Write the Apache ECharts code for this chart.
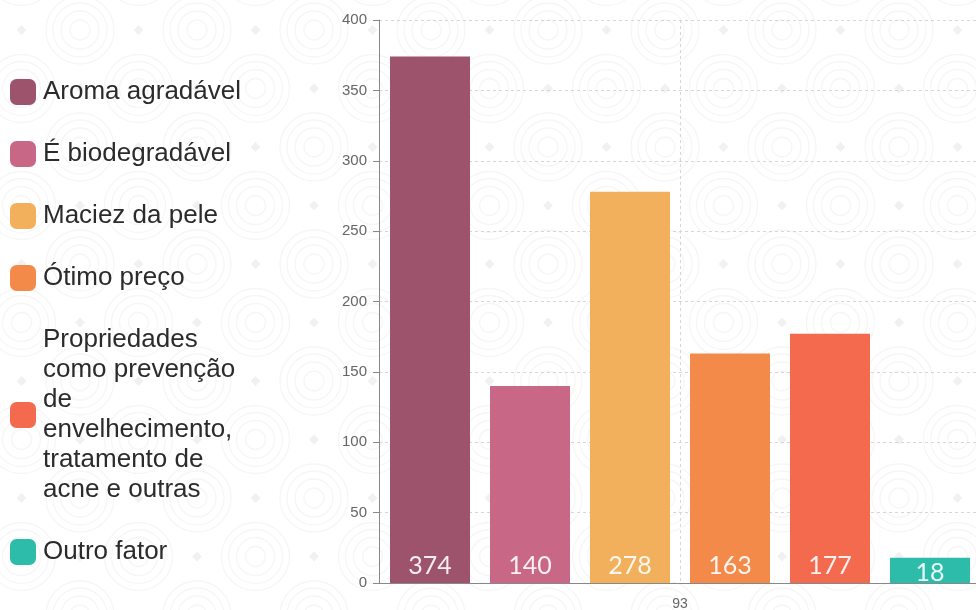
<!DOCTYPE html>
<html>
<head>
<meta charset="utf-8">
<script src="https://cdn.jsdelivr.net/npm/echarts@6/dist/echarts.min.js"></script>
<style>
html,body{margin:0;padding:0;background:#fff;}
#chart{width:976px;height:610px;}
</style>
</head>
<body>
<div id="chart"></div>
<script>
// ---- data ----
var categories = ['93'];
var seriesNames = [
  'Aroma agradável',
  'É biodegradável',
  'Maciez da pele',
  'Ótimo preço',
  'Propriedades\ncomo prevenção\nde\nenvelhecimento,\ntratamento de\nacne e outras',
  'Outro fator'
];
var seriesValues = [374, 140, 278, 163, 177, 18];
var seriesColors = ['#9d536b', '#c96886', '#f2b05c', '#f38a4a', '#f36a4f', '#2ebcaa'];
var yTicks = {min: 0, max: 400, interval: 50};

// ---- background pattern tile ----
function makeTile() {
  var c = document.createElement('canvas');
  var W = 117, H = 117;
  c.width = W; c.height = H;
  var ctx = c.getContext('2d');
  ctx.fillStyle = '#ffffff';
  ctx.fillRect(0, 0, W, H);
  var circles = [[80, 30], [21.5, 88.5]];
  var diamonds = [[21.5, 30], [80, 88.5]];
  var radii = [10, 19, 27, 34];
  ctx.strokeStyle = '#f6f6f6';
  ctx.lineWidth = 1.3;
  circles.forEach(function (p) {
    for (var dx = -W; dx <= W; dx += W) {
      for (var dy = -H; dy <= H; dy += H) {
        radii.forEach(function (r) {
          ctx.beginPath();
          ctx.arc(p[0] + dx, p[1] + dy, r, 0, Math.PI * 2);
          ctx.stroke();
        });
      }
    }
  });
  ctx.fillStyle = '#f1f1f1';
  diamonds.forEach(function (p) {
    ctx.beginPath();
    ctx.moveTo(p[0], p[1] - 5);
    ctx.lineTo(p[0] + 5, p[1]);
    ctx.lineTo(p[0], p[1] + 5);
    ctx.lineTo(p[0] - 5, p[1]);
    ctx.closePath();
    ctx.fill();
  });
  return c;
}

var chart = echarts.init(document.getElementById('chart'), null, {renderer: 'canvas'});

var series = seriesNames.map(function (name, i) {
  var shortBar = seriesValues[i] < 25;
  return {
    name: name,
    type: 'bar',
    data: [seriesValues[i]],
    barWidth: 80,
    barGap: '25%',
    itemStyle: {color: seriesColors[i]},
    label: {
      show: true,
      position: 'insideBottom',
      distance: shortBar ? -2 : 5,
      color: 'rgba(255,255,255,0.9)',
      fontFamily: 'Lato',
      fontWeight: 'normal',
      fontSize: 25
    }
  };
});

chart.setOption({
  backgroundColor: {image: makeTile(), repeat: 'repeat'},
  animation: false,
  legend: {
    orient: 'vertical',
    left: 5,
    top: 72,
    itemWidth: 26,
    itemHeight: 26,
    itemGap: 32,
    icon: 'roundRect',
    selectedMode: false,
    textStyle: {
      fontFamily: 'Liberation Sans',
      fontSize: 26,
      lineHeight: 30,
      color: '#2b2b2b',
      padding: [0, 0, 0, 2]
    }
  },
  grid: {left: 379, width: 602, top: 20, bottom: 27, outerBoundsMode: 'none', containLabel: false},
  xAxis: {
    type: 'category',
    data: categories,
    axisLine: {lineStyle: {color: '#888'}},
    axisTick: {alignWithLabel: true, length: 6, lineStyle: {color: '#888'}},
    axisLabel: {color: '#666', fontSize: 14, margin: 14, fontFamily: 'Liberation Sans'},
    splitLine: {show: true, alignWithLabel: true, lineStyle: {type: [3, 3], color: '#d6d6d6'}}
  },
  yAxis: {
    type: 'value',
    min: yTicks.min,
    max: yTicks.max,
    interval: yTicks.interval,
    axisLine: {show: true, lineStyle: {color: '#888'}},
    axisTick: {show: true, length: 6, lineStyle: {color: '#888'}},
    axisLabel: {color: '#666', fontSize: 15, margin: 12, fontFamily: 'Liberation Sans'},
    splitLine: {show: true, lineStyle: {type: [3, 3], color: '#d6d6d6'}}
  },
  series: series
});
</script>
</body>
</html>
